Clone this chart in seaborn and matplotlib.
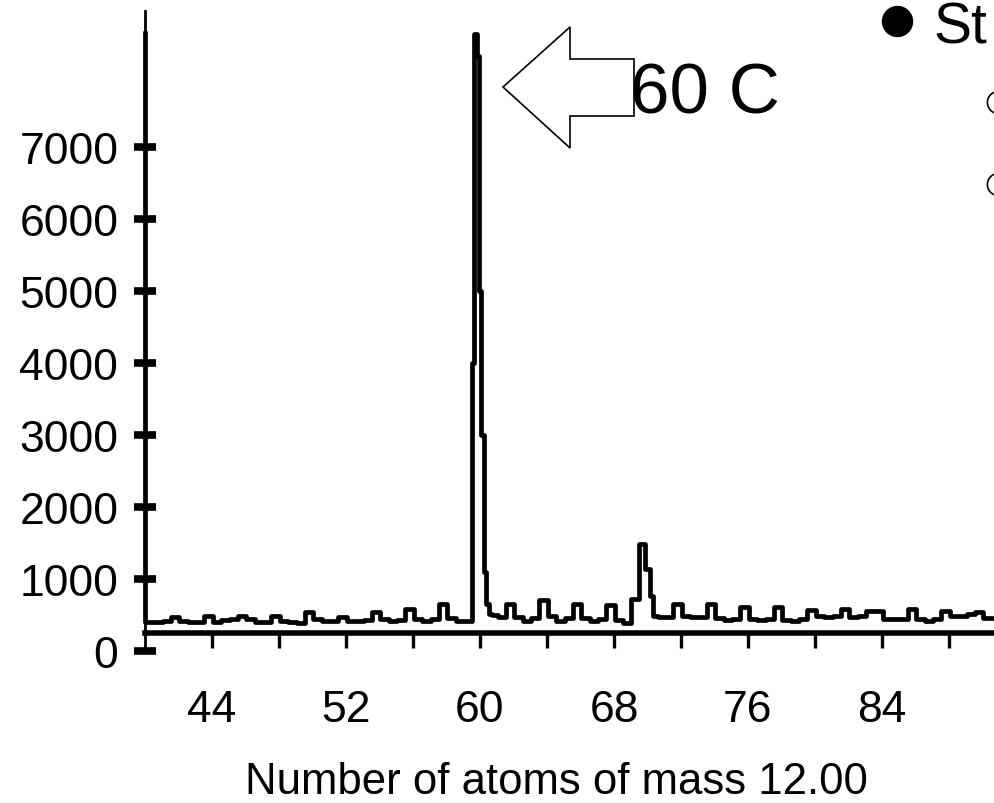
import matplotlib
matplotlib.use('Agg')
import matplotlib.pyplot as plt
import seaborn as sns
import pandas as pd
from matplotlib.patches import Polygon
from matplotlib.lines import Line2D
from matplotlib.ticker import FixedLocator

# Espectro de massa (leitura aproximada do gráfico)
n_atoms = [40.0, 40.05, 40.3, 40.8, 41.3, 41.8, 42.3, 42.8, 43.3, 43.8, 44.3, 44.8,
           45.3, 45.8, 46.3, 46.8, 47.3, 47.8, 48.3, 48.8, 49.3, 49.8, 50.3, 50.8,
           51.3, 51.8, 52.3, 52.8, 53.3, 53.8, 54.3, 54.8, 55.3, 55.8, 56.3, 56.8,
           57.3, 57.8, 58.3, 58.8, 59.3, 59.45, 59.55, 59.75, 59.9, 60.0, 60.15,
           60.3, 60.45, 60.6, 60.8, 61.3, 61.8, 62.3, 62.8, 63.3, 63.8, 64.3, 64.8,
           65.3, 65.8, 66.3, 66.8, 67.3, 67.8, 68.3, 68.8, 69.25, 69.7, 70.05, 70.25,
           70.45, 70.8, 71.3, 71.8, 72.3, 72.8, 73.3, 73.8, 74.3, 74.8, 75.3, 75.8,
           76.3, 76.8, 77.3, 77.8, 78.3, 78.8, 79.3, 79.8, 80.3, 80.8, 81.3, 81.8,
           82.3, 82.8, 83.3, 83.8, 84.3, 84.8, 85.3, 85.8, 86.3, 86.8, 87.3, 87.8,
           88.3, 88.8, 89.3, 89.8, 90.3, 90.8]
counts = [8600, 400, 400, 400, 410, 470, 410, 400, 400, 490, 400, 430,
          440, 490, 440, 400, 400, 490, 410, 400, 390, 540, 440, 410,
          420, 470, 420, 420, 430, 540, 440, 420, 430, 580, 450, 420,
          440, 650, 460, 420, 420, 420, 4000, 8570, 8260, 5000, 3000,
          1100, 650, 520, 500, 470, 650, 470, 420, 460, 710, 480, 420,
          460, 650, 460, 410, 450, 640, 430, 390, 720, 1490, 1140, 760,
          490, 470, 470, 650, 480, 470, 470, 650, 460, 430, 440, 610,
          450, 430, 440, 610, 430, 420, 440, 570, 480, 470, 480, 580,
          470, 480, 555, 555, 450, 440, 450, 580, 440, 420, 440, 550,
          490, 490, 520, 540, 460, 460]

y_ticks = [0, 1000, 2000, 3000, 4000, 5000, 6000, 7000]
x_major = [44, 52, 60, 68, 76, 84]
x_minor = [48, 56, 64, 72, 80, 88]

dt = pd.DataFrame({'n': n_atoms, 'counts': counts})

sns.set_style('white')
plt.rcParams['font.family'] = ['Liberation Sans', 'DejaVu Sans']
for k in ['text.color', 'axes.labelcolor', 'xtick.color', 'ytick.color',
          'axes.edgecolor']:
    plt.rcParams[k] = 'black'

fig = plt.figure(figsize=(9.95, 8.04), dpi=100)
ax = fig.add_axes([145 / 995, 152 / 804, 850 / 995, 640 / 804])

sns.lineplot(data=dt, x='n', y='counts', ax=ax, color='black', lw=3.4,
             estimator=None, sort=False, drawstyle='steps-mid', clip_on=False)

ax.set_xlim(40, 90.75)
ax.set_ylim(0, 8889)

# Eixos
for s in ['top', 'right']:
    ax.spines[s].set_visible(False)
ax.spines['left'].set_linewidth(2)
ax.spines['bottom'].set_position(('data', 250))
ax.spines['bottom'].set_linewidth(4)

ax.set_yticks(y_ticks)
ax.xaxis.set_major_locator(FixedLocator(x_major))
ax.xaxis.set_minor_locator(FixedLocator(x_minor))
ax.tick_params(axis='y', direction='inout', length=16.5, width=5.5,
               pad=11, labelsize=32, left=True)
ax.tick_params(axis='x', which='both', direction='out', length=11, width=2.4,
               pad=29, labelsize=32, bottom=True)
ax.set_ylabel('')
ax.set_xlabel('Number of atoms of mass 12.00', fontsize=31.5)
ax.xaxis.label.set_va('baseline')
ax.xaxis.set_label_coords(0.4835, -0.222)

# Seta e rótulo do pico
arrow_px = [(503, 88), (570, 28), (570, 60), (634, 60), (634, 117),
            (570, 117), (570, 149)]
fig.add_artist(Polygon([(x / 995, 1 - y / 804) for x, y in arrow_px], closed=True,
                       fc='white', ec='black', lw=1.2, transform=fig.transFigure))
fig.text(630 / 995, 1 - 113 / 804, '60 C', fontsize=51, ha='left', va='baseline')

# Texto do slide (parcialmente visível no original)
fig.add_artist(Line2D([897 / 995], [1 - 22 / 804], marker='o', ms=21.6,
                      color='black', transform=fig.transFigure))
fig.text(933 / 995, 1 - 44 / 804, 'St', fontsize=41, ha='left', va='baseline')
for yy in [103, 185]:
    fig.add_artist(Line2D([998 / 995], [1 - yy / 804], marker='o', ms=16,
                          mfc='white', mec='black', mew=1.2,
                          transform=fig.transFigure))

plt.savefig('out.png', dpi=100)
plt.close()
